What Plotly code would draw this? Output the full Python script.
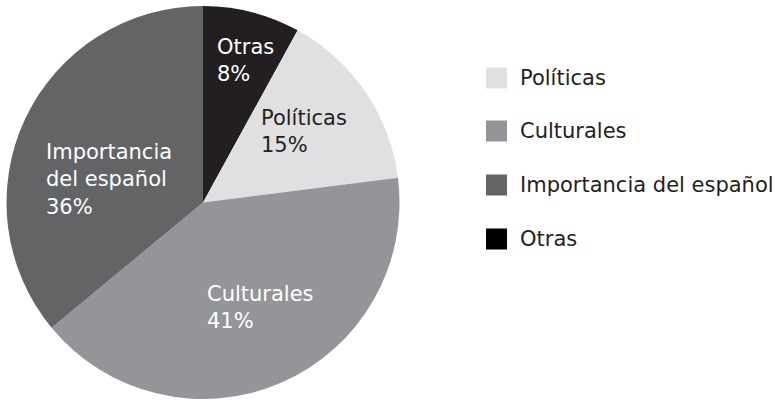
import plotly.graph_objects as go

# Data (clockwise from 12 o'clock)
labels = ["Otras", "Políticas", "Culturales", "Importancia del español"]
values = [8, 15, 41, 36]
slice_colors = ["#231f20", "#e0e0e2", "#939598", "#636466"]
text_colors = ["#ffffff", "#231f20", "#ffffff", "#ffffff"]
label_text = ["Otras", "Políticas", "Culturales", "Importancia<br>del español"]

legend_order = ["Políticas", "Culturales", "Importancia del español", "Otras"]
legend_colors = ["#e0e0e2", "#939598", "#636466", "#000000"]

W, H = 775, 400
FONT = "DejaVu Sans"
FS = 21

fig = go.Figure()
fig.add_trace(go.Pie(
    labels=labels, values=values, sort=False, direction="clockwise", rotation=0,
    marker=dict(colors=slice_colors, line=dict(width=0)),
    textinfo="none", hoverinfo="label+percent", showlegend=False,
    domain=dict(x=[6.5 / W, 399.5 / W], y=[1 - 399 / H, 1 - 6 / H]),
))

# In-slice labels (left aligned, as in reference)
label_pos = {  # pixel positions of text block (left x, center y)
    "Otras": (215, 60),
    "Políticas": (259, 131),
    "Culturales": (205, 307),
    "Importancia del español": (44, 179),
}
total = sum(values)
for lab, v, tc, lt in zip(labels, values, text_colors, label_text):
    px, py = label_pos[lab]
    fig.add_annotation(
        x=px / W, y=1 - py / H, xref="paper", yref="paper",
        xanchor="left", yanchor="middle", align="left", showarrow=False,
        text=f"{lt}<br>{round(100 * v / total)}%",
        font=dict(family=FONT, size=FS, color=tc),
    )

# Manual legend
rows = [78, 131, 185, 239]
for name, col, ry in zip(legend_order, legend_colors, rows):
    fig.add_shape(type="rect", xref="paper", yref="paper",
                  x0=486 / W, x1=507 / W, y0=1 - (ry + 10.5) / H, y1=1 - (ry - 10.5) / H,
                  fillcolor=col, line=dict(width=0))
    fig.add_annotation(x=518 / W, y=1 - ry / H, xref="paper", yref="paper",
                       xanchor="left", yanchor="middle", showarrow=False,
                       text=name, font=dict(family=FONT, size=FS, color="#231f20"))

fig.update_layout(
    width=W, height=H, margin=dict(l=0, r=0, t=0, b=0),
    paper_bgcolor="white", plot_bgcolor="white", showlegend=False,
    font=dict(family=FONT, size=FS),
)
fig.write_html("out.html", config={"displayModeBar": False},
               post_script="document.body.style.margin='0';")
